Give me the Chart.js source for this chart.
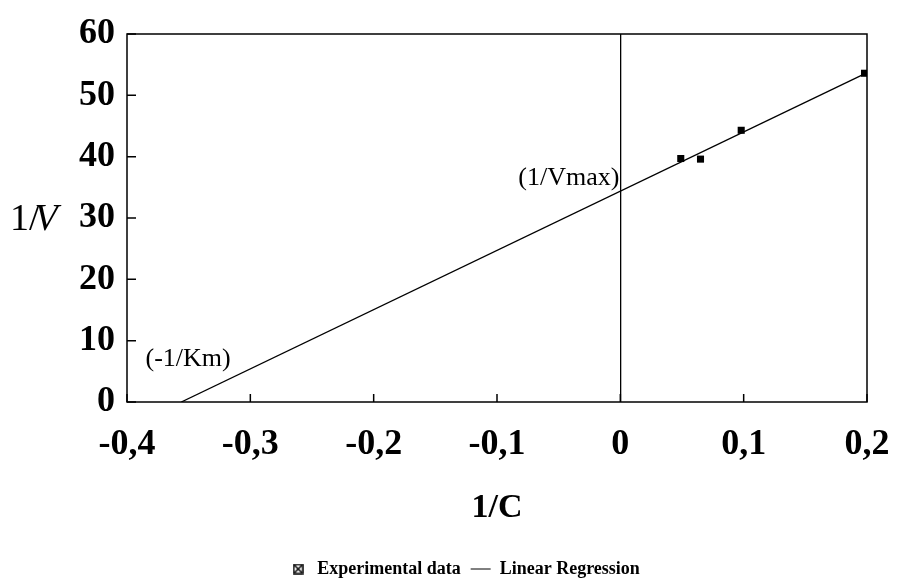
<!DOCTYPE html>
<html lang="en">
<head>
    <meta charset="UTF-8">
    <title>Lineweaver-Burk plot</title>
    <script src="https://cdn.jsdelivr.net/npm/chart.js"></script>
    <style>
        body {
            margin: 0;
            background-color: #ffffff;
        }
        #wrap {
            width: 915px;
            height: 585px;
        }
    </style>
</head>
<body>
    <div id="wrap">
        <canvas id="lbChart"></canvas>
    </div>

    <script>
        // experimental points (1/C, 1/V)
        const expX = [0.049, 0.065, 0.098, 0.198];
        const expY = [39.7, 39.6, 44.3, 53.6];

        // linear regression end points
        const fitX = [-0.356, 0.198];
        const fitY = [0, 53.5];

        const xTickValues = [-0.4, -0.3, -0.2, -0.1, 0, 0.1, 0.2];
        const xTickLabels = ['-0,4', '-0,3', '-0,2', '-0,1', '0', '0,1', '0,2'];
        const yTickValues = [0, 10, 20, 30, 40, 50, 60];

        const serif = '"Liberation Serif", "Times New Roman", serif';

        // boxed-x marker used in the legend
        function boxedX() {
            const c = document.createElement('canvas');
            c.width = 11;
            c.height = 11;
            const g = c.getContext('2d');
            g.strokeStyle = '#000';
            g.lineWidth = 1.5;
            g.strokeRect(1, 1, 9, 9);
            g.beginPath();
            g.moveTo(2, 2); g.lineTo(9, 9);
            g.moveTo(9, 2); g.lineTo(2, 9);
            g.stroke();
            return c;
        }

        // frame, inner ticks and the text labels on the plot
        const framePlugin = {
            id: 'frame',
            afterDatasetsDraw(chart) {
                const { ctx, chartArea: a, scales: { x, y } } = chart;
                ctx.save();
                ctx.strokeStyle = '#000';
                ctx.lineWidth = 1.5;
                ctx.strokeRect(a.left, a.top, a.width, a.height);

                ctx.beginPath();
                yTickValues.forEach(v => {
                    const py = y.getPixelForValue(v);
                    ctx.moveTo(a.left, py);
                    ctx.lineTo(a.left + 9, py);
                });
                xTickValues.forEach(v => {
                    const px = x.getPixelForValue(v);
                    ctx.moveTo(px, a.bottom);
                    ctx.lineTo(px, a.bottom - 8);
                });
                ctx.stroke();

                ctx.fillStyle = '#000';
                ctx.textBaseline = 'middle';
                ctx.font = '26px ' + serif;
                ctx.textAlign = 'right';
                ctx.fillText('(1/Vmax)', x.getPixelForValue(0) - 1, y.getPixelForValue(36.5));
                ctx.textAlign = 'left';
                ctx.fillText('(-1/Km)', x.getPixelForValue(-0.385), y.getPixelForValue(7));

                // y axis title, written horizontally
                const ty = y.getPixelForValue(29.6);
                ctx.font = '38px ' + serif;
                ctx.fillText('1/', 10, ty);
                const w = ctx.measureText('1/').width;
                ctx.font = 'italic 38px ' + serif;
                ctx.fillText('V', 10 + w - 5, ty);
                ctx.restore();
            }
        };

        const chart = new Chart(document.getElementById('lbChart').getContext('2d'), {
            type: 'scatter',
            data: {
                datasets: [{
                    label: 'Experimental data',
                    data: expX.map((v, i) => ({ x: v, y: expY[i] })),
                    pointStyle: 'rect',
                    pointRadius: 5,
                    backgroundColor: '#000',
                    borderColor: '#000',
                    borderWidth: 0
                }, {
                    label: 'Linear Regression',
                    data: fitX.map((v, i) => ({ x: v, y: fitY[i] })),
                    showLine: true,
                    pointRadius: 0,
                    pointStyle: 'line',
                    borderColor: '#000',
                    backgroundColor: '#000',
                    borderWidth: 1.3
                }]
            },
            options: {
                responsive: true,
                maintainAspectRatio: false,
                animation: false,
                layout: {
                    padding: { left: 61, right: 48, top: 34, bottom: -3 }
                },
                plugins: {
                    tooltip: { enabled: false },
                    legend: {
                        position: 'bottom',
                        labels: {
                            color: '#000',
                            font: { family: serif, size: 18, weight: 'bold' },
                            usePointStyle: true,
                            pointStyleWidth: 20,
                            padding: 10,
                            generateLabels(c) {
                                const items = Chart.defaults.plugins.legend.labels.generateLabels(c);
                                items[0].pointStyle = boxedX();
                                items[1].pointStyle = 'line';
                                items[1].lineWidth = 1;
                                return items;
                            }
                        }
                    }
                },
                scales: {
                    x: {
                        type: 'linear',
                        min: -0.4,
                        max: 0.2,
                        afterBuildTicks(s) {
                            s.ticks = xTickValues.map(v => ({ value: v }));
                        },
                        border: { display: false },
                        grid: {
                            drawTicks: false,
                            color: c => (c.tick && c.tick.value === 0) ? '#000' : 'rgba(0,0,0,0)',
                            lineWidth: 1.3
                        },
                        ticks: {
                            color: '#000',
                            padding: 21,
                            maxRotation: 0,
                            font: { family: serif, size: 36, weight: 'bold' },
                            callback: v => xTickLabels[xTickValues.indexOf(Math.round(v * 10) / 10)]
                        },
                        title: {
                            display: true,
                            text: '1/C',
                            color: '#000',
                            font: { family: serif, size: 34, weight: 'bold' },
                            padding: { top: 1, bottom: 21 }
                        }
                    },
                    y: {
                        min: 0,
                        max: 60,
                        afterBuildTicks(s) {
                            s.ticks = yTickValues.map(v => ({ value: v }));
                        },
                        afterFit(s) {
                            s.width = 66;
                        },
                        border: { display: false },
                        grid: { display: false, drawTicks: false },
                        ticks: {
                            color: '#000',
                            padding: 12,
                            font: { family: serif, size: 36, weight: 'bold' }
                        }
                    }
                }
            },
            plugins: [framePlugin]
        });
    </script>
</body>
</html>
